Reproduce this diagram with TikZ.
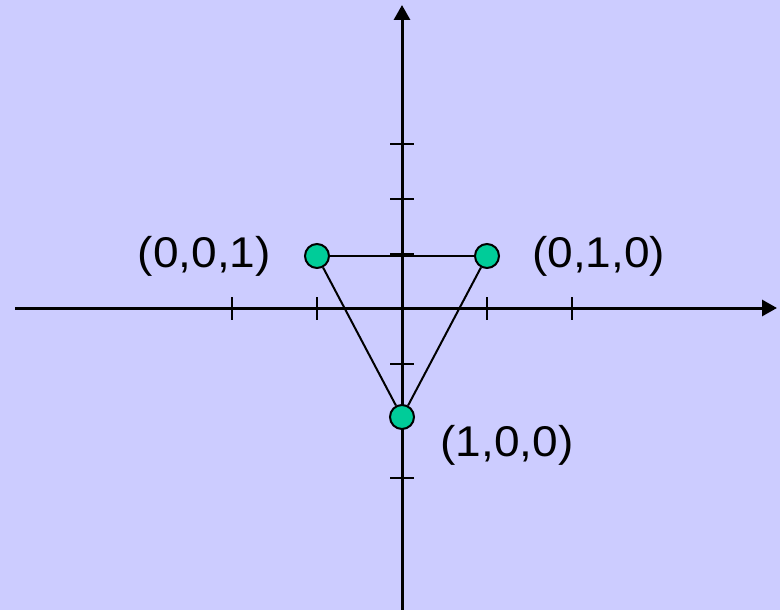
\documentclass[tikz,border=0pt]{standalone}
\usepackage{fontspec}
\setmainfont[FakeStretch=1.07]{Liberation Sans}
\usetikzlibrary{positioning, arrows.meta}

\definecolor{bgblue}{RGB}{204,204,255}
\definecolor{ptgreen}{RGB}{0,204,153}

\begin{document}
\begin{tikzpicture}[
    x=1pt, y=-1pt,
    font=\fontsize{43}{50}\selectfont,
    axis/.style={line width=3pt, -{Triangle[length=15pt, width=16pt]}},
    tick/.style={line width=2.5pt},
    point/.style={circle, draw, line width=2pt, fill=ptgreen, minimum size=24pt, inner sep=0pt},
    edge/.style={line width=2pt},
    lbl/.style={inner sep=0pt}
]

% Background
\fill[bgblue] (0,0) rectangle (780,610);
\useasboundingbox (0,0) rectangle (780,610);

% Axes
\coordinate (xstart) at (15,308);
\coordinate (xend) at (777,308);
\coordinate (ystart) at (402,610);
\coordinate (yend) at (402,5);
\draw[axis] (xstart) -- (xend);
\draw[axis] (ystart) -- (yend);

% Ticks
\draw[tick] (232,297) -- (232,320);
\draw[tick] (317,297) -- (317,320);
\draw[tick] (487,297) -- (487,320);
\draw[tick] (572,297) -- (572,320);
\draw[tick] (390,144) -- (414,144);
\draw[tick] (390,199) -- (414,199);
\draw[tick] (390,254) -- (414,254);
\draw[tick] (390,364) -- (414,364);
\draw[tick] (390,421) -- (414,421);
\draw[tick] (390,478) -- (414,478);

% Nodes
\node[point] (p001) at (317,256) {};
\node[point] (p010) at (487,256) {};
\node[point] (p100) at (402,417) {};

\node[lbl, left=33pt of p001] (l001) {(0,0,1)};
\node[lbl, right=32pt of p010] (l010) {(0,1,0)};
\node[lbl, below right=-1pt and 29pt of p100] (l100) {(1,0,0)};

% Connections
\draw[edge] (p001) -- (p010);
\draw[edge] (p001) -- (p100);
\draw[edge] (p010) -- (p100);

\end{tikzpicture}
\end{document}
